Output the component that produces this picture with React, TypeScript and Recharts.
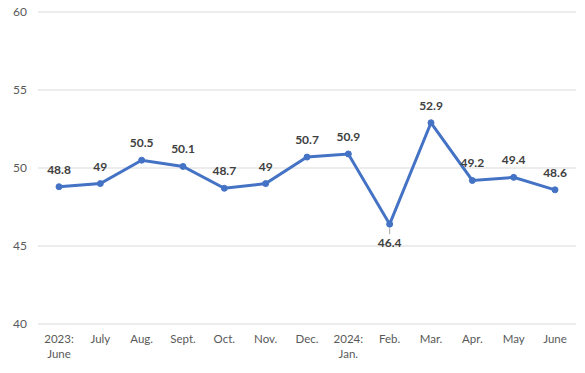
import React from 'react';
import { LineChart, Line, XAxis, YAxis, CartesianGrid, LabelList } from 'recharts';

// Monthly index readings, June 2023 through June 2024
const months = [
  '2023:|June', 'July', 'Aug.', 'Sept.', 'Oct.', 'Nov.', 'Dec.',
  '2024:|Jan.', 'Feb.', 'Mar.', 'Apr.', 'May', 'June'
];
const values = [48.8, 49, 50.5, 50.1, 48.7, 49, 50.7, 50.9, 46.4, 52.9, 49.2, 49.4, 48.6];
const yTicks = [40, 45, 50, 55, 60];

const data = months.map((m, i) => ({ month: m, value: values[i] }));

const FONT = 'Lato, "Open Sans", sans-serif';

const MonthTick = (props: any) => {
  const { x, y, payload } = props;
  const lines = String(payload.value).split('|');
  return (
    <text x={x} y={y} textAnchor="middle" fill="#595959" fontSize={11.5} fontFamily={FONT}>
      {lines.map((ln, i) => (
        <tspan key={i} x={x} dy={i === 0 ? 11 : 15}>{ln}</tspan>
      ))}
    </text>
  );
};

const ValueLabel = (props: any) => {
  const { x, y, value, index } = props;
  const below = index === 8;
  if (below) {
    return (
      <g>
        <line x1={x} y1={y + 4} x2={x} y2={y + 10} stroke="#a6a6a6" strokeWidth={1} />
        <text x={x} y={y + 23} textAnchor="middle" fill="#404040" fontSize={12}
          fontWeight="bold" fontFamily={FONT}>{value}</text>
      </g>
    );
  }
  return (
    <text x={x} y={y - 13} textAnchor="middle" fill="#404040" fontSize={12}
      fontWeight="bold" fontFamily={FONT}>{value}</text>
  );
};

export default function App() {
  return (
    <div style={{ position: 'fixed', left: 0, top: 0, width: 585, height: 373, background: '#fff' }}>
      <LineChart width={585} height={373} data={data}
        margin={{ top: 12, right: 9, left: 8, bottom: 9 }}>
        <CartesianGrid vertical={false} stroke="#d9d9d9" />
        <XAxis dataKey="month" axisLine={false} tickLine={false} tick={<MonthTick />}
          interval={0} height={40} tickSize={0} tickMargin={8}
          padding={{ left: 21, right: 21 }} />
        <YAxis domain={[40, 60]} ticks={yTicks} axisLine={false} tickLine={false}
          width={30} tickSize={0} tickMargin={11}
          tick={{ fill: '#595959', fontSize: 12, fontFamily: FONT }} />
        <Line dataKey="value" stroke="#4472C4" strokeWidth={3}
          dot={{ r: 3, fill: '#4472C4', stroke: '#4472C4', strokeWidth: 1 }}
          isAnimationActive={false}>
          <LabelList dataKey="value" content={<ValueLabel />} />
        </Line>
      </LineChart>
    </div>
  );
}
